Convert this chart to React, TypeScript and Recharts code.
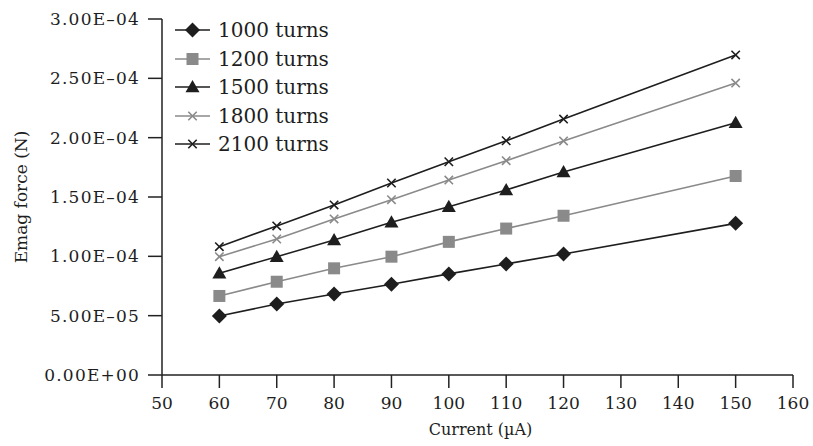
import React from "react";
import { LineChart, Line, XAxis, YAxis, Legend } from "recharts";

const currents = [60, 70, 80, 90, 100, 110, 120, 150];
const turns1000 = [4.97e-5, 5.98e-5, 6.83e-5, 7.65e-5, 8.52e-5, 9.36e-5, 1.02e-4, 1.278e-4];
const turns1200 = [6.66e-5, 7.86e-5, 8.99e-5, 9.97e-5, 1.122e-4, 1.234e-4, 1.342e-4, 1.677e-4];
const turns1500 = [8.57e-5, 9.97e-5, 1.138e-4, 1.287e-4, 1.418e-4, 1.559e-4, 1.711e-4, 2.126e-4];
const turns1800 = [9.97e-5, 1.146e-4, 1.315e-4, 1.477e-4, 1.643e-4, 1.806e-4, 1.972e-4, 2.46e-4];
const turns2100 = [1.081e-4, 1.256e-4, 1.433e-4, 1.618e-4, 1.797e-4, 1.974e-4, 2.157e-4, 2.697e-4];

const seriesNames = ["1000 turns", "1200 turns", "1500 turns", "1800 turns", "2100 turns"];
const xTicks = [50, 60, 70, 80, 90, 100, 110, 120, 130, 140, 150, 160];
const yTicks = [0, 5e-5, 1e-4, 1.5e-4, 2e-4, 2.5e-4, 3e-4];
const yTickLabels = ["0.00E+00", "5.00E\u201305", "1.00E\u201304", "1.50E\u201304", "2.00E\u201304", "2.50E\u201304", "3.00E\u201304"];

const data = currents.map((c, i) => ({
  current: c,
  s1000: turns1000[i],
  s1200: turns1200[i],
  s1500: turns1500[i],
  s1800: turns1800[i],
  s2100: turns2100[i],
}));

const BLACK = "#1e1e1e";
const GRAY = "#8a8a8a";
const FONT = "'DejaVu Serif', serif";

type Kind = "diamond" | "square" | "triangle" | "x";

const Marker = ({ kind, cx, cy, color }: { kind: Kind; cx: number; cy: number; color: string }) => {
  if (kind === "diamond") {
    const r = 7.5;
    return <path d={`M${cx},${cy - r}L${cx + r},${cy}L${cx},${cy + r}L${cx - r},${cy}Z`} fill={color} />;
  }
  if (kind === "square") {
    const r = 6;
    return <rect x={cx - r} y={cy - r} width={2 * r} height={2 * r} fill={color} />;
  }
  if (kind === "triangle") {
    const w = 7, h = 7;
    return <path d={`M${cx},${cy - h}L${cx + w},${cy + h * 0.75}L${cx - w},${cy + h * 0.75}Z`} fill={color} />;
  }
  const r = 4.2;
  return (
    <path
      d={`M${cx - r},${cy - r}L${cx + r},${cy + r}M${cx - r},${cy + r}L${cx + r},${cy - r}`}
      stroke={color}
      strokeWidth={1.6}
      fill="none"
    />
  );
};

const seriesDefs: { key: string; kind: Kind; line: string; marker: string }[] = [
  { key: "s1000", kind: "diamond", line: BLACK, marker: BLACK },
  { key: "s1200", kind: "square", line: GRAY, marker: GRAY },
  { key: "s1500", kind: "triangle", line: BLACK, marker: BLACK },
  { key: "s1800", kind: "x", line: GRAY, marker: GRAY },
  { key: "s2100", kind: "x", line: BLACK, marker: BLACK },
];

const makeDot = (kind: Kind, color: string) => (props: any) => {
  const { cx, cy, index } = props;
  if (cx == null || cy == null) return <g key={index} />;
  return <Marker key={index} kind={kind} cx={cx} cy={cy} color={color} />;
};

const LegendContent = () => (
  <div style={{ fontFamily: FONT, fontSize: 20, color: "#1e1e1e" }}>
    {seriesDefs.map((s, i) => (
      <div key={s.key} style={{ height: 28.5, display: "flex", alignItems: "center" }}>
        <svg width={43} height={20} style={{ display: "block" }}>
          <line x1={0} y1={10} x2={35} y2={10} stroke={s.line} strokeWidth={1.6} />
          <Marker kind={s.kind} cx={17.5} cy={10} color={s.marker} />
        </svg>
        <span style={{ whiteSpace: "nowrap", lineHeight: "20px" }}>{seriesNames[i]}</span>
      </div>
    ))}
  </div>
);

export default function App() {
  return (
    <div style={{ width: 813, height: 446, background: "#fff" }}>
      <style>{"body{margin:0}"}</style>
      <LineChart width={813} height={446} data={data} margin={{ top: 19, right: 20, bottom: 0, left: 0 }}>
        <XAxis
          dataKey="current"
          type="number"
          domain={[50, 160]}
          ticks={xTicks}
          interval={0}
          tickSize={13}
          tickMargin={9}
          height={71}
          axisLine={{ stroke: "#222", strokeWidth: 1.5 }}
          tickLine={{ stroke: "#222", strokeWidth: 1.5 }}
          tick={{ fill: "#1e1e1e", fontFamily: FONT, fontSize: 17 }}
          label={{
            content: (p: any) => {
              const vb = p.viewBox;
              return (
                <text x={vb.x + vb.width / 2 + 3} y={vb.y + 60} textAnchor="middle" fontFamily={FONT} fontSize={16} fill="#1e1e1e">
                  Current (µA)
                </text>
              );
            },
          }}
        />
        <YAxis
          type="number"
          domain={[0, 3e-4]}
          ticks={yTicks}
          interval={0}
          width={162}
          tickSize={14}
          tickMargin={8}
          tickFormatter={(v: number) => {
            const i = yTicks.findIndex((t) => Math.abs(t - v) < 1e-9);
            return i >= 0 ? yTickLabels[i] : String(v);
          }}
          axisLine={{ stroke: "#222", strokeWidth: 1.5 }}
          tickLine={{ stroke: "#222", strokeWidth: 1.5 }}
          tick={{ fill: "#1e1e1e", fontFamily: FONT, fontSize: 17, letterSpacing: 1.2 }}
          label={{
            content: (p: any) => {
              const vb = p.viewBox;
              const x = vb.x + 27;
              const y = vb.y + vb.height / 2;
              return (
                <text x={x} y={y} transform={`rotate(-90 ${x} ${y})`} textAnchor="middle" fontFamily={FONT} fontSize={17} fill="#1e1e1e">
                  Emag force (N)
                </text>
              );
            },
          }}
        />
        <Legend
          layout="vertical"
          verticalAlign="middle"
          align="center"
          content={<LegendContent />}
          wrapperStyle={{ left: 175, top: 16, width: 200 }}
        />
        {seriesDefs.map((s, i) => (
          <Line
            key={s.key}
            dataKey={s.key}
            name={seriesNames[i]}
            stroke={s.line}
            strokeWidth={1.6}
            dot={makeDot(s.kind, s.marker)}
            activeDot={false}
            isAnimationActive={false}
          />
        ))}
      </LineChart>
    </div>
  );
}
